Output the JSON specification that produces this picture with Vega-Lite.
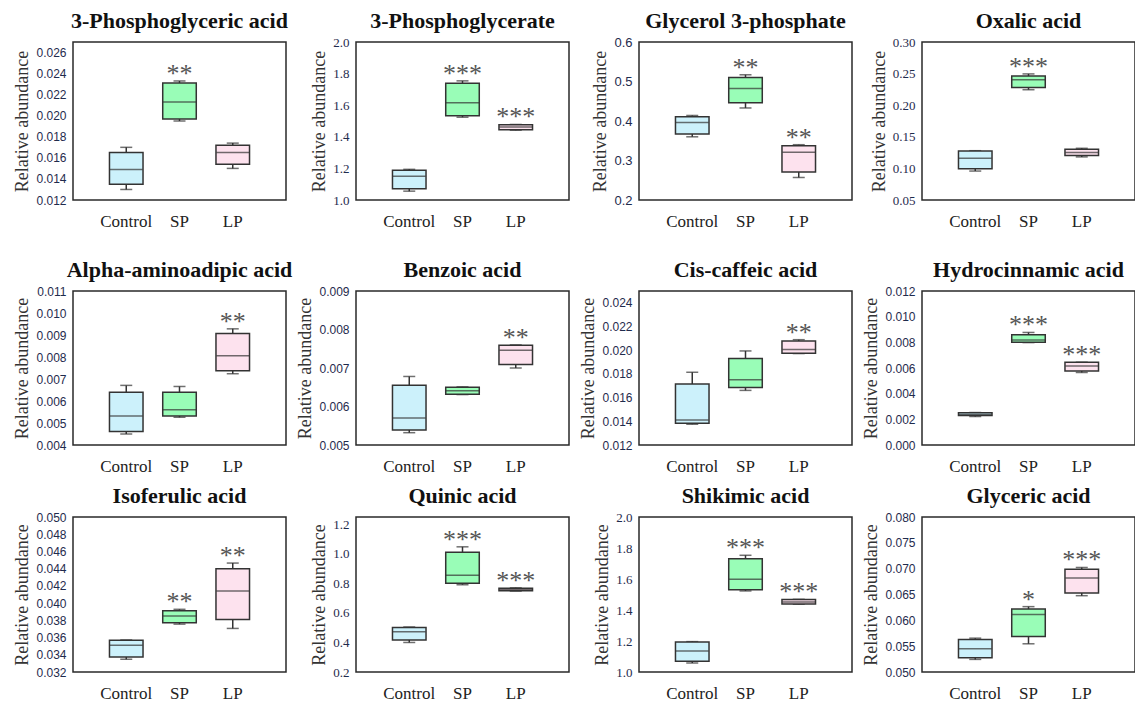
{
"$schema": "https://vega.github.io/schema/vega-lite/v6.json",
"background": "white",
"padding": {"left": 13, "top": 9, "right": 0, "bottom": 0},
"data": {"values": [
{"panel":"3-Phosphoglyceric acid","group":"Control","min":0.0130,"q1":0.0135,"median":0.0149,"q3":0.0165,"max":0.0170,"sig":""},
{"panel":"3-Phosphoglyceric acid","group":"SP","min":0.0195,"q1":0.0197,"median":0.0213,"q3":0.0231,"max":0.0233,"sig":"**"},
{"panel":"3-Phosphoglyceric acid","group":"LP","min":0.0150,"q1":0.0154,"median":0.0165,"q3":0.0172,"max":0.0174,"sig":""},
{"panel":"3-Phosphoglycerate","group":"Control","min":1.056,"q1":1.071,"median":1.150,"q3":1.188,"max":1.194,"sig":""},
{"panel":"3-Phosphoglycerate","group":"SP","min":1.524,"q1":1.534,"median":1.615,"q3":1.739,"max":1.754,"sig":"***"},
{"panel":"3-Phosphoglycerate","group":"LP","min":1.442,"q1":1.444,"median":1.462,"q3":1.476,"max":1.478,"sig":"***"},
{"panel":"Glycerol 3-phosphate","group":"Control","min":0.360,"q1":0.367,"median":0.396,"q3":0.411,"max":0.414,"sig":""},
{"panel":"Glycerol 3-phosphate","group":"SP","min":0.433,"q1":0.446,"median":0.482,"q3":0.510,"max":0.517,"sig":"**"},
{"panel":"Glycerol 3-phosphate","group":"LP","min":0.257,"q1":0.271,"median":0.321,"q3":0.3375,"max":0.340,"sig":"**"},
{"panel":"Oxalic acid","group":"Control","min":0.0958,"q1":0.0995,"median":0.1161,"q3":0.1276,"max":0.1280,"sig":""},
{"panel":"Oxalic acid","group":"SP","min":0.2245,"q1":0.2281,"median":0.2401,"q3":0.2464,"max":0.2495,"sig":"***"},
{"panel":"Oxalic acid","group":"LP","min":0.1182,"q1":0.1203,"median":0.1250,"q3":0.1302,"max":0.1318,"sig":""},
{"panel":"Alpha-aminoadipic acid","group":"Control","min":0.00450,"q1":0.00461,"median":0.00532,"q3":0.00640,"max":0.00671,"sig":""},
{"panel":"Alpha-aminoadipic acid","group":"SP","min":0.00526,"q1":0.00532,"median":0.00560,"q3":0.00640,"max":0.00666,"sig":""},
{"panel":"Alpha-aminoadipic acid","group":"LP","min":0.00724,"q1":0.00738,"median":0.00806,"q3":0.00907,"max":0.00928,"sig":"**"},
{"panel":"Benzoic acid","group":"Control","min":0.00532,"q1":0.00539,"median":0.00570,"q3":0.00655,"max":0.00678,"sig":""},
{"panel":"Benzoic acid","group":"SP","min":0.00631,"q1":0.00632,"median":0.00641,"q3":0.00650,"max":0.00651,"sig":""},
{"panel":"Benzoic acid","group":"LP","min":0.00700,"q1":0.00709,"median":0.00746,"q3":0.00759,"max":0.00760,"sig":"**"},
{"panel":"Cis-caffeic acid","group":"Control","min":0.01375,"q1":0.01383,"median":0.01411,"q3":0.01714,"max":0.01814,"sig":""},
{"panel":"Cis-caffeic acid","group":"SP","min":0.01661,"q1":0.01686,"median":0.01750,"q3":0.01931,"max":0.01994,"sig":""},
{"panel":"Cis-caffeic acid","group":"LP","min":0.01972,"q1":0.01975,"median":0.02006,"q3":0.02078,"max":0.02089,"sig":"**"},
{"panel":"Hydrocinnamic acid","group":"Control","min":0.00222,"q1":0.00230,"median":0.00238,"q3":0.00251,"max":0.00253,"sig":""},
{"panel":"Hydrocinnamic acid","group":"SP","min":0.00798,"q1":0.00800,"median":0.00819,"q3":0.00859,"max":0.00877,"sig":"***"},
{"panel":"Hydrocinnamic acid","group":"LP","min":0.00565,"q1":0.00576,"median":0.00615,"q3":0.00644,"max":0.00645,"sig":"***"},
{"panel":"Isoferulic acid","group":"Control","min":0.03348,"q1":0.03375,"median":0.03511,"q3":0.03570,"max":0.03572,"sig":""},
{"panel":"Isoferulic acid","group":"SP","min":0.03756,"q1":0.03772,"median":0.03850,"q3":0.03912,"max":0.03928,"sig":"**"},
{"panel":"Isoferulic acid","group":"LP","min":0.03706,"q1":0.03811,"median":0.04142,"q3":0.04398,"max":0.04465,"sig":"**"},
{"panel":"Quinic acid","group":"Control","min":0.400,"q1":0.416,"median":0.473,"q3":0.502,"max":0.505,"sig":""},
{"panel":"Quinic acid","group":"SP","min":0.791,"q1":0.802,"median":0.855,"q3":1.011,"max":1.048,"sig":"***"},
{"panel":"Quinic acid","group":"LP","min":0.748,"q1":0.750,"median":0.761,"q3":0.768,"max":0.770,"sig":"***"},
{"panel":"Shikimic acid","group":"Control","min":1.058,"q1":1.069,"median":1.135,"q3":1.194,"max":1.196,"sig":""},
{"panel":"Shikimic acid","group":"SP","min":1.523,"q1":1.531,"median":1.598,"q3":1.731,"max":1.753,"sig":"***"},
{"panel":"Shikimic acid","group":"LP","min":1.437,"q1":1.439,"median":1.452,"q3":1.467,"max":1.469,"sig":"***"},
{"panel":"Glyceric acid","group":"Control","min":0.05244,"q1":0.05276,"median":0.05450,"q3":0.05629,"max":0.05655,"sig":""},
{"panel":"Glyceric acid","group":"SP","min":0.05546,"q1":0.05687,"median":0.06111,"q3":0.06220,"max":0.06265,"sig":"*"},
{"panel":"Glyceric acid","group":"LP","min":0.06477,"q1":0.06529,"median":0.06818,"q3":0.06991,"max":0.07023,"sig":"***"}
]},
"spacing": 28,
"vconcat": [
{"hconcat": [
{"title":{"text":"3-Phosphoglyceric acid","offset":9},"width":213,"height":158,
"transform":[{"filter":{"field":"panel","equal":"3-Phosphoglyceric acid"}}],
"encoding":{"x":{"field":"group","type":"nominal","sort":["Control","SP","LP"],"scale":{"paddingInner":0.37,"paddingOuter":0.685},"title":null,"axis":{"labelFont":"Liberation Serif","labelFontSize":17,"labelColor":"#222","labelPadding":13,"ticks":false,"domain":false,"labelAngle":0}}},
"layer":[
{"mark":{"type":"rule","color":"#333","strokeWidth":1.5},"encoding":{"y":{"field":"min","type":"quantitative","title":"Relative abundance","scale":{"domain":[0.012,0.027],"nice":false,"zero":false},"axis":{"values":[0.012,0.014,0.016,0.018,0.02,0.022,0.024,0.026],"tickCount":12,"format":".3f","labelOverlap":false,"labelFont":"Liberation Sans","labelFontSize":12,"labelColor":"#1f2b4d","labelPadding":7,"ticks":false,"domain":false,"grid":false,"titleFont":"Liberation Serif","titleFontSize":18,"titleFontWeight":"normal","titleColor":"#333","titlePadding":4}},"y2":{"field":"max"}}},
{"mark":{"type":"tick","color":"#333","size":12,"thickness":1.5},"encoding":{"y":{"field":"min","type":"quantitative","title":"Relative abundance","scale":{"domain":[0.012,0.027],"nice":false,"zero":false}}}},
{"mark":{"type":"tick","color":"#333","size":12,"thickness":1.5},"encoding":{"y":{"field":"max","type":"quantitative","title":"Relative abundance","scale":{"domain":[0.012,0.027],"nice":false,"zero":false}}}},
{"mark":{"type":"bar","stroke":"#333","strokeWidth":1.5},"encoding":{"y":{"field":"q1","type":"quantitative","title":"Relative abundance","scale":{"domain":[0.012,0.027],"nice":false,"zero":false}},"y2":{"field":"q3"},"fill":{"field":"group","type":"nominal","scale":{"domain":["Control","SP","LP"],"range":["#ccf1fb","#99fdb7","#fde2ee"]},"legend":null}}},
{"mark":{"type":"tick","color":"#333","size":33,"thickness":1.5},"encoding":{"y":{"field":"median","type":"quantitative","title":"Relative abundance","scale":{"domain":[0.012,0.027],"nice":false,"zero":false}}}},
{"mark":{"type":"text","font":"Liberation Serif","fontSize":26,"color":"#555","baseline":"alphabetic","dy":1},"encoding":{"y":{"field":"max","type":"quantitative","title":"Relative abundance","scale":{"domain":[0.012,0.027],"nice":false,"zero":false}},"text":{"field":"sig"}}}
]},
{"title":{"text":"3-Phosphoglycerate","offset":3},"width":213,"height":158,
"transform":[{"filter":{"field":"panel","equal":"3-Phosphoglycerate"}}],
"encoding":{"x":{"field":"group","type":"nominal","sort":["Control","SP","LP"],"scale":{"paddingInner":0.37,"paddingOuter":0.685},"title":null,"axis":{"labelFont":"Liberation Serif","labelFontSize":17,"labelColor":"#222","labelPadding":13,"ticks":false,"domain":false,"labelAngle":0}}},
"layer":[
{"mark":{"type":"rule","color":"#333","strokeWidth":1.5},"encoding":{"y":{"field":"min","type":"quantitative","title":"Relative abundance","scale":{"domain":[1.0,2.0],"nice":false,"zero":false},"axis":{"values":[1.0,1.2,1.4,1.6,1.8,2.0],"tickCount":12,"format":".1f","labelOverlap":false,"labelFont":"Liberation Serif","labelFontSize":13,"labelColor":"#1f2b4d","labelPadding":7,"ticks":false,"domain":false,"grid":false,"titleFont":"Liberation Serif","titleFontSize":18,"titleFontWeight":"normal","titleColor":"#333","titlePadding":4}},"y2":{"field":"max"}}},
{"mark":{"type":"tick","color":"#333","size":12,"thickness":1.5},"encoding":{"y":{"field":"min","type":"quantitative","title":"Relative abundance","scale":{"domain":[1.0,2.0],"nice":false,"zero":false}}}},
{"mark":{"type":"tick","color":"#333","size":12,"thickness":1.5},"encoding":{"y":{"field":"max","type":"quantitative","title":"Relative abundance","scale":{"domain":[1.0,2.0],"nice":false,"zero":false}}}},
{"mark":{"type":"bar","stroke":"#333","strokeWidth":1.5},"encoding":{"y":{"field":"q1","type":"quantitative","title":"Relative abundance","scale":{"domain":[1.0,2.0],"nice":false,"zero":false}},"y2":{"field":"q3"},"fill":{"field":"group","type":"nominal","scale":{"domain":["Control","SP","LP"],"range":["#ccf1fb","#99fdb7","#fde2ee"]},"legend":null}}},
{"mark":{"type":"tick","color":"#333","size":33,"thickness":1.5},"encoding":{"y":{"field":"median","type":"quantitative","title":"Relative abundance","scale":{"domain":[1.0,2.0],"nice":false,"zero":false}}}},
{"mark":{"type":"text","font":"Liberation Serif","fontSize":26,"color":"#555","baseline":"alphabetic","dy":1},"encoding":{"y":{"field":"max","type":"quantitative","title":"Relative abundance","scale":{"domain":[1.0,2.0],"nice":false,"zero":false}},"text":{"field":"sig"}}}
]},
{"title":{"text":"Glycerol 3-phosphate","offset":3},"width":213,"height":158,
"transform":[{"filter":{"field":"panel","equal":"Glycerol 3-phosphate"}}],
"encoding":{"x":{"field":"group","type":"nominal","sort":["Control","SP","LP"],"scale":{"paddingInner":0.37,"paddingOuter":0.685},"title":null,"axis":{"labelFont":"Liberation Serif","labelFontSize":17,"labelColor":"#222","labelPadding":13,"ticks":false,"domain":false,"labelAngle":0}}},
"layer":[
{"mark":{"type":"rule","color":"#333","strokeWidth":1.5},"encoding":{"y":{"field":"min","type":"quantitative","title":"Relative abundance","scale":{"domain":[0.2,0.6],"nice":false,"zero":false},"axis":{"values":[0.2,0.3,0.4,0.5,0.6],"tickCount":12,"format":".1f","labelOverlap":false,"labelFont":"Liberation Sans","labelFontSize":13,"labelColor":"#1f2b4d","labelPadding":7,"ticks":false,"domain":false,"grid":false,"titleFont":"Liberation Serif","titleFontSize":18,"titleFontWeight":"normal","titleColor":"#333","titlePadding":4}},"y2":{"field":"max"}}},
{"mark":{"type":"tick","color":"#333","size":12,"thickness":1.5},"encoding":{"y":{"field":"min","type":"quantitative","title":"Relative abundance","scale":{"domain":[0.2,0.6],"nice":false,"zero":false}}}},
{"mark":{"type":"tick","color":"#333","size":12,"thickness":1.5},"encoding":{"y":{"field":"max","type":"quantitative","title":"Relative abundance","scale":{"domain":[0.2,0.6],"nice":false,"zero":false}}}},
{"mark":{"type":"bar","stroke":"#333","strokeWidth":1.5},"encoding":{"y":{"field":"q1","type":"quantitative","title":"Relative abundance","scale":{"domain":[0.2,0.6],"nice":false,"zero":false}},"y2":{"field":"q3"},"fill":{"field":"group","type":"nominal","scale":{"domain":["Control","SP","LP"],"range":["#ccf1fb","#99fdb7","#fde2ee"]},"legend":null}}},
{"mark":{"type":"tick","color":"#333","size":33,"thickness":1.5},"encoding":{"y":{"field":"median","type":"quantitative","title":"Relative abundance","scale":{"domain":[0.2,0.6],"nice":false,"zero":false}}}},
{"mark":{"type":"text","font":"Liberation Serif","fontSize":26,"color":"#555","baseline":"alphabetic","dy":1},"encoding":{"y":{"field":"max","type":"quantitative","title":"Relative abundance","scale":{"domain":[0.2,0.6],"nice":false,"zero":false}},"text":{"field":"sig"}}}
]},
{"title":{"text":"Oxalic acid","offset":3},"width":213,"height":158,
"transform":[{"filter":{"field":"panel","equal":"Oxalic acid"}}],
"encoding":{"x":{"field":"group","type":"nominal","sort":["Control","SP","LP"],"scale":{"paddingInner":0.37,"paddingOuter":0.685},"title":null,"axis":{"labelFont":"Liberation Serif","labelFontSize":17,"labelColor":"#222","labelPadding":13,"ticks":false,"domain":false,"labelAngle":0}}},
"layer":[
{"mark":{"type":"rule","color":"#333","strokeWidth":1.5},"encoding":{"y":{"field":"min","type":"quantitative","title":"Relative abundance","scale":{"domain":[0.05,0.30],"nice":false,"zero":false},"axis":{"values":[0.05,0.1,0.15,0.2,0.25,0.3],"tickCount":12,"format":".2f","labelOverlap":false,"labelFont":"Liberation Serif","labelFontSize":13,"labelColor":"#1f2b4d","labelPadding":7,"ticks":false,"domain":false,"grid":false,"titleFont":"Liberation Serif","titleFontSize":18,"titleFontWeight":"normal","titleColor":"#333","titlePadding":4}},"y2":{"field":"max"}}},
{"mark":{"type":"tick","color":"#333","size":12,"thickness":1.5},"encoding":{"y":{"field":"min","type":"quantitative","title":"Relative abundance","scale":{"domain":[0.05,0.30],"nice":false,"zero":false}}}},
{"mark":{"type":"tick","color":"#333","size":12,"thickness":1.5},"encoding":{"y":{"field":"max","type":"quantitative","title":"Relative abundance","scale":{"domain":[0.05,0.30],"nice":false,"zero":false}}}},
{"mark":{"type":"bar","stroke":"#333","strokeWidth":1.5},"encoding":{"y":{"field":"q1","type":"quantitative","title":"Relative abundance","scale":{"domain":[0.05,0.30],"nice":false,"zero":false}},"y2":{"field":"q3"},"fill":{"field":"group","type":"nominal","scale":{"domain":["Control","SP","LP"],"range":["#ccf1fb","#99fdb7","#fde2ee"]},"legend":null}}},
{"mark":{"type":"tick","color":"#333","size":33,"thickness":1.5},"encoding":{"y":{"field":"median","type":"quantitative","title":"Relative abundance","scale":{"domain":[0.05,0.30],"nice":false,"zero":false}}}},
{"mark":{"type":"text","font":"Liberation Serif","fontSize":26,"color":"#555","baseline":"alphabetic","dy":1},"encoding":{"y":{"field":"max","type":"quantitative","title":"Relative abundance","scale":{"domain":[0.05,0.30],"nice":false,"zero":false}},"text":{"field":"sig"}}}
]}
], "spacing": 70, "bounds": "flush"},
{"spacing": 9, "vconcat": [
{"hconcat": [
{"title":{"text":"Alpha-aminoadipic acid","offset":3},"width":213,"height":154,
"transform":[{"filter":{"field":"panel","equal":"Alpha-aminoadipic acid"}}],
"encoding":{"x":{"field":"group","type":"nominal","sort":["Control","SP","LP"],"scale":{"paddingInner":0.37,"paddingOuter":0.685},"title":null,"axis":{"labelFont":"Liberation Serif","labelFontSize":17,"labelColor":"#222","labelPadding":13,"ticks":false,"domain":false,"labelAngle":0}}},
"layer":[
{"mark":{"type":"rule","color":"#333","strokeWidth":1.5},"encoding":{"y":{"field":"min","type":"quantitative","title":"Relative abundance","scale":{"domain":[0.004,0.011],"nice":false,"zero":false},"axis":{"values":[0.004,0.005,0.006,0.007,0.008,0.009,0.01,0.011],"tickCount":12,"format":".3f","labelOverlap":false,"labelFont":"Liberation Sans","labelFontSize":12,"labelColor":"#1f2b4d","labelPadding":7,"ticks":false,"domain":false,"grid":false,"titleFont":"Liberation Serif","titleFontSize":18,"titleFontWeight":"normal","titleColor":"#333","titlePadding":4}},"y2":{"field":"max"}}},
{"mark":{"type":"tick","color":"#333","size":12,"thickness":1.5},"encoding":{"y":{"field":"min","type":"quantitative","title":"Relative abundance","scale":{"domain":[0.004,0.011],"nice":false,"zero":false}}}},
{"mark":{"type":"tick","color":"#333","size":12,"thickness":1.5},"encoding":{"y":{"field":"max","type":"quantitative","title":"Relative abundance","scale":{"domain":[0.004,0.011],"nice":false,"zero":false}}}},
{"mark":{"type":"bar","stroke":"#333","strokeWidth":1.5},"encoding":{"y":{"field":"q1","type":"quantitative","title":"Relative abundance","scale":{"domain":[0.004,0.011],"nice":false,"zero":false}},"y2":{"field":"q3"},"fill":{"field":"group","type":"nominal","scale":{"domain":["Control","SP","LP"],"range":["#ccf1fb","#99fdb7","#fde2ee"]},"legend":null}}},
{"mark":{"type":"tick","color":"#333","size":33,"thickness":1.5},"encoding":{"y":{"field":"median","type":"quantitative","title":"Relative abundance","scale":{"domain":[0.004,0.011],"nice":false,"zero":false}}}},
{"mark":{"type":"text","font":"Liberation Serif","fontSize":26,"color":"#555","baseline":"alphabetic","dy":1},"encoding":{"y":{"field":"max","type":"quantitative","title":"Relative abundance","scale":{"domain":[0.004,0.011],"nice":false,"zero":false}},"text":{"field":"sig"}}}
]},
{"title":{"text":"Benzoic acid","offset":3},"width":213,"height":154,
"transform":[{"filter":{"field":"panel","equal":"Benzoic acid"}}],
"encoding":{"x":{"field":"group","type":"nominal","sort":["Control","SP","LP"],"scale":{"paddingInner":0.37,"paddingOuter":0.685},"title":null,"axis":{"labelFont":"Liberation Serif","labelFontSize":17,"labelColor":"#222","labelPadding":13,"ticks":false,"domain":false,"labelAngle":0}}},
"layer":[
{"mark":{"type":"rule","color":"#333","strokeWidth":1.5},"encoding":{"y":{"field":"min","type":"quantitative","title":"Relative abundance","scale":{"domain":[0.005,0.009],"nice":false,"zero":false},"axis":{"values":[0.005,0.006,0.007,0.008,0.009],"tickCount":12,"format":".3f","labelOverlap":false,"labelFont":"Liberation Sans","labelFontSize":12,"labelColor":"#1f2b4d","labelPadding":7,"ticks":false,"domain":false,"grid":false,"titleFont":"Liberation Serif","titleFontSize":18,"titleFontWeight":"normal","titleColor":"#333","titlePadding":4}},"y2":{"field":"max"}}},
{"mark":{"type":"tick","color":"#333","size":12,"thickness":1.5},"encoding":{"y":{"field":"min","type":"quantitative","title":"Relative abundance","scale":{"domain":[0.005,0.009],"nice":false,"zero":false}}}},
{"mark":{"type":"tick","color":"#333","size":12,"thickness":1.5},"encoding":{"y":{"field":"max","type":"quantitative","title":"Relative abundance","scale":{"domain":[0.005,0.009],"nice":false,"zero":false}}}},
{"mark":{"type":"bar","stroke":"#333","strokeWidth":1.5},"encoding":{"y":{"field":"q1","type":"quantitative","title":"Relative abundance","scale":{"domain":[0.005,0.009],"nice":false,"zero":false}},"y2":{"field":"q3"},"fill":{"field":"group","type":"nominal","scale":{"domain":["Control","SP","LP"],"range":["#ccf1fb","#99fdb7","#fde2ee"]},"legend":null}}},
{"mark":{"type":"tick","color":"#333","size":33,"thickness":1.5},"encoding":{"y":{"field":"median","type":"quantitative","title":"Relative abundance","scale":{"domain":[0.005,0.009],"nice":false,"zero":false}}}},
{"mark":{"type":"text","font":"Liberation Serif","fontSize":26,"color":"#555","baseline":"alphabetic","dy":1},"encoding":{"y":{"field":"max","type":"quantitative","title":"Relative abundance","scale":{"domain":[0.005,0.009],"nice":false,"zero":false}},"text":{"field":"sig"}}}
]},
{"title":{"text":"Cis-caffeic acid","offset":9},"width":213,"height":154,
"transform":[{"filter":{"field":"panel","equal":"Cis-caffeic acid"}}],
"encoding":{"x":{"field":"group","type":"nominal","sort":["Control","SP","LP"],"scale":{"paddingInner":0.37,"paddingOuter":0.685},"title":null,"axis":{"labelFont":"Liberation Serif","labelFontSize":17,"labelColor":"#222","labelPadding":13,"ticks":false,"domain":false,"labelAngle":0}}},
"layer":[
{"mark":{"type":"rule","color":"#333","strokeWidth":1.5},"encoding":{"y":{"field":"min","type":"quantitative","title":"Relative abundance","scale":{"domain":[0.012,0.025],"nice":false,"zero":false},"axis":{"values":[0.012,0.014,0.016,0.018,0.02,0.022,0.024],"tickCount":12,"format":".3f","labelOverlap":false,"labelFont":"Liberation Sans","labelFontSize":12,"labelColor":"#1f2b4d","labelPadding":7,"ticks":false,"domain":false,"grid":false,"titleFont":"Liberation Serif","titleFontSize":18,"titleFontWeight":"normal","titleColor":"#333","titlePadding":4}},"y2":{"field":"max"}}},
{"mark":{"type":"tick","color":"#333","size":12,"thickness":1.5},"encoding":{"y":{"field":"min","type":"quantitative","title":"Relative abundance","scale":{"domain":[0.012,0.025],"nice":false,"zero":false}}}},
{"mark":{"type":"tick","color":"#333","size":12,"thickness":1.5},"encoding":{"y":{"field":"max","type":"quantitative","title":"Relative abundance","scale":{"domain":[0.012,0.025],"nice":false,"zero":false}}}},
{"mark":{"type":"bar","stroke":"#333","strokeWidth":1.5},"encoding":{"y":{"field":"q1","type":"quantitative","title":"Relative abundance","scale":{"domain":[0.012,0.025],"nice":false,"zero":false}},"y2":{"field":"q3"},"fill":{"field":"group","type":"nominal","scale":{"domain":["Control","SP","LP"],"range":["#ccf1fb","#99fdb7","#fde2ee"]},"legend":null}}},
{"mark":{"type":"tick","color":"#333","size":33,"thickness":1.5},"encoding":{"y":{"field":"median","type":"quantitative","title":"Relative abundance","scale":{"domain":[0.012,0.025],"nice":false,"zero":false}}}},
{"mark":{"type":"text","font":"Liberation Serif","fontSize":26,"color":"#555","baseline":"alphabetic","dy":1},"encoding":{"y":{"field":"max","type":"quantitative","title":"Relative abundance","scale":{"domain":[0.012,0.025],"nice":false,"zero":false}},"text":{"field":"sig"}}}
]},
{"title":{"text":"Hydrocinnamic acid","offset":3},"width":213,"height":154,
"transform":[{"filter":{"field":"panel","equal":"Hydrocinnamic acid"}}],
"encoding":{"x":{"field":"group","type":"nominal","sort":["Control","SP","LP"],"scale":{"paddingInner":0.37,"paddingOuter":0.685},"title":null,"axis":{"labelFont":"Liberation Serif","labelFontSize":17,"labelColor":"#222","labelPadding":13,"ticks":false,"domain":false,"labelAngle":0}}},
"layer":[
{"mark":{"type":"rule","color":"#333","strokeWidth":1.5},"encoding":{"y":{"field":"min","type":"quantitative","title":"Relative abundance","scale":{"domain":[0,0.012],"nice":false,"zero":false},"axis":{"values":[0,0.002,0.004,0.006,0.008,0.01,0.012],"tickCount":12,"format":".3f","labelOverlap":false,"labelFont":"Liberation Sans","labelFontSize":12,"labelColor":"#1f2b4d","labelPadding":7,"ticks":false,"domain":false,"grid":false,"titleFont":"Liberation Serif","titleFontSize":18,"titleFontWeight":"normal","titleColor":"#333","titlePadding":4}},"y2":{"field":"max"}}},
{"mark":{"type":"tick","color":"#333","size":12,"thickness":1.5},"encoding":{"y":{"field":"min","type":"quantitative","title":"Relative abundance","scale":{"domain":[0,0.012],"nice":false,"zero":false}}}},
{"mark":{"type":"tick","color":"#333","size":12,"thickness":1.5},"encoding":{"y":{"field":"max","type":"quantitative","title":"Relative abundance","scale":{"domain":[0,0.012],"nice":false,"zero":false}}}},
{"mark":{"type":"bar","stroke":"#333","strokeWidth":1.5},"encoding":{"y":{"field":"q1","type":"quantitative","title":"Relative abundance","scale":{"domain":[0,0.012],"nice":false,"zero":false}},"y2":{"field":"q3"},"fill":{"field":"group","type":"nominal","scale":{"domain":["Control","SP","LP"],"range":["#ccf1fb","#99fdb7","#fde2ee"]},"legend":null}}},
{"mark":{"type":"tick","color":"#333","size":33,"thickness":1.5},"encoding":{"y":{"field":"median","type":"quantitative","title":"Relative abundance","scale":{"domain":[0,0.012],"nice":false,"zero":false}}}},
{"mark":{"type":"text","font":"Liberation Serif","fontSize":26,"color":"#555","baseline":"alphabetic","dy":1},"encoding":{"y":{"field":"max","type":"quantitative","title":"Relative abundance","scale":{"domain":[0,0.012],"nice":false,"zero":false}},"text":{"field":"sig"}}}
]}
], "spacing": 70, "bounds": "flush"},
{"hconcat": [
{"title":{"text":"Isoferulic acid","offset":3},"width":213,"height":155,
"transform":[{"filter":{"field":"panel","equal":"Isoferulic acid"}}],
"encoding":{"x":{"field":"group","type":"nominal","sort":["Control","SP","LP"],"scale":{"paddingInner":0.37,"paddingOuter":0.685},"title":null,"axis":{"labelFont":"Liberation Serif","labelFontSize":17,"labelColor":"#222","labelPadding":13,"ticks":false,"domain":false,"labelAngle":0}}},
"layer":[
{"mark":{"type":"rule","color":"#333","strokeWidth":1.5},"encoding":{"y":{"field":"min","type":"quantitative","title":"Relative abundance","scale":{"domain":[0.032,0.05],"nice":false,"zero":false},"axis":{"values":[0.032,0.034,0.036,0.038,0.04,0.042,0.044,0.046,0.048,0.05],"tickCount":12,"format":".3f","labelOverlap":false,"labelFont":"Liberation Sans","labelFontSize":12,"labelColor":"#1f2b4d","labelPadding":7,"ticks":false,"domain":false,"grid":false,"titleFont":"Liberation Serif","titleFontSize":18,"titleFontWeight":"normal","titleColor":"#333","titlePadding":4}},"y2":{"field":"max"}}},
{"mark":{"type":"tick","color":"#333","size":12,"thickness":1.5},"encoding":{"y":{"field":"min","type":"quantitative","title":"Relative abundance","scale":{"domain":[0.032,0.05],"nice":false,"zero":false}}}},
{"mark":{"type":"tick","color":"#333","size":12,"thickness":1.5},"encoding":{"y":{"field":"max","type":"quantitative","title":"Relative abundance","scale":{"domain":[0.032,0.05],"nice":false,"zero":false}}}},
{"mark":{"type":"bar","stroke":"#333","strokeWidth":1.5},"encoding":{"y":{"field":"q1","type":"quantitative","title":"Relative abundance","scale":{"domain":[0.032,0.05],"nice":false,"zero":false}},"y2":{"field":"q3"},"fill":{"field":"group","type":"nominal","scale":{"domain":["Control","SP","LP"],"range":["#ccf1fb","#99fdb7","#fde2ee"]},"legend":null}}},
{"mark":{"type":"tick","color":"#333","size":33,"thickness":1.5},"encoding":{"y":{"field":"median","type":"quantitative","title":"Relative abundance","scale":{"domain":[0.032,0.05],"nice":false,"zero":false}}}},
{"mark":{"type":"text","font":"Liberation Serif","fontSize":26,"color":"#555","baseline":"alphabetic","dy":1},"encoding":{"y":{"field":"max","type":"quantitative","title":"Relative abundance","scale":{"domain":[0.032,0.05],"nice":false,"zero":false}},"text":{"field":"sig"}}}
]},
{"title":{"text":"Quinic acid","offset":9},"width":213,"height":155,
"transform":[{"filter":{"field":"panel","equal":"Quinic acid"}}],
"encoding":{"x":{"field":"group","type":"nominal","sort":["Control","SP","LP"],"scale":{"paddingInner":0.37,"paddingOuter":0.685},"title":null,"axis":{"labelFont":"Liberation Serif","labelFontSize":17,"labelColor":"#222","labelPadding":13,"ticks":false,"domain":false,"labelAngle":0}}},
"layer":[
{"mark":{"type":"rule","color":"#333","strokeWidth":1.5},"encoding":{"y":{"field":"min","type":"quantitative","title":"Relative abundance","scale":{"domain":[0.2,1.25],"nice":false,"zero":false},"axis":{"values":[0.2,0.4,0.6,0.8,1.0,1.2],"tickCount":12,"format":".1f","labelOverlap":false,"labelFont":"Liberation Serif","labelFontSize":13,"labelColor":"#1f2b4d","labelPadding":7,"ticks":false,"domain":false,"grid":false,"titleFont":"Liberation Serif","titleFontSize":18,"titleFontWeight":"normal","titleColor":"#333","titlePadding":4}},"y2":{"field":"max"}}},
{"mark":{"type":"tick","color":"#333","size":12,"thickness":1.5},"encoding":{"y":{"field":"min","type":"quantitative","title":"Relative abundance","scale":{"domain":[0.2,1.25],"nice":false,"zero":false}}}},
{"mark":{"type":"tick","color":"#333","size":12,"thickness":1.5},"encoding":{"y":{"field":"max","type":"quantitative","title":"Relative abundance","scale":{"domain":[0.2,1.25],"nice":false,"zero":false}}}},
{"mark":{"type":"bar","stroke":"#333","strokeWidth":1.5},"encoding":{"y":{"field":"q1","type":"quantitative","title":"Relative abundance","scale":{"domain":[0.2,1.25],"nice":false,"zero":false}},"y2":{"field":"q3"},"fill":{"field":"group","type":"nominal","scale":{"domain":["Control","SP","LP"],"range":["#ccf1fb","#99fdb7","#fde2ee"]},"legend":null}}},
{"mark":{"type":"tick","color":"#333","size":33,"thickness":1.5},"encoding":{"y":{"field":"median","type":"quantitative","title":"Relative abundance","scale":{"domain":[0.2,1.25],"nice":false,"zero":false}}}},
{"mark":{"type":"text","font":"Liberation Serif","fontSize":26,"color":"#555","baseline":"alphabetic","dy":1},"encoding":{"y":{"field":"max","type":"quantitative","title":"Relative abundance","scale":{"domain":[0.2,1.25],"nice":false,"zero":false}},"text":{"field":"sig"}}}
]},
{"title":{"text":"Shikimic acid","offset":3},"width":213,"height":155,
"transform":[{"filter":{"field":"panel","equal":"Shikimic acid"}}],
"encoding":{"x":{"field":"group","type":"nominal","sort":["Control","SP","LP"],"scale":{"paddingInner":0.37,"paddingOuter":0.685},"title":null,"axis":{"labelFont":"Liberation Serif","labelFontSize":17,"labelColor":"#222","labelPadding":13,"ticks":false,"domain":false,"labelAngle":0}}},
"layer":[
{"mark":{"type":"rule","color":"#333","strokeWidth":1.5},"encoding":{"y":{"field":"min","type":"quantitative","title":"Relative abundance","scale":{"domain":[1.0,2.0],"nice":false,"zero":false},"axis":{"values":[1.0,1.2,1.4,1.6,1.8,2.0],"tickCount":12,"format":".1f","labelOverlap":false,"labelFont":"Liberation Serif","labelFontSize":13,"labelColor":"#1f2b4d","labelPadding":7,"ticks":false,"domain":false,"grid":false,"titleFont":"Liberation Serif","titleFontSize":18,"titleFontWeight":"normal","titleColor":"#333","titlePadding":4}},"y2":{"field":"max"}}},
{"mark":{"type":"tick","color":"#333","size":12,"thickness":1.5},"encoding":{"y":{"field":"min","type":"quantitative","title":"Relative abundance","scale":{"domain":[1.0,2.0],"nice":false,"zero":false}}}},
{"mark":{"type":"tick","color":"#333","size":12,"thickness":1.5},"encoding":{"y":{"field":"max","type":"quantitative","title":"Relative abundance","scale":{"domain":[1.0,2.0],"nice":false,"zero":false}}}},
{"mark":{"type":"bar","stroke":"#333","strokeWidth":1.5},"encoding":{"y":{"field":"q1","type":"quantitative","title":"Relative abundance","scale":{"domain":[1.0,2.0],"nice":false,"zero":false}},"y2":{"field":"q3"},"fill":{"field":"group","type":"nominal","scale":{"domain":["Control","SP","LP"],"range":["#ccf1fb","#99fdb7","#fde2ee"]},"legend":null}}},
{"mark":{"type":"tick","color":"#333","size":33,"thickness":1.5},"encoding":{"y":{"field":"median","type":"quantitative","title":"Relative abundance","scale":{"domain":[1.0,2.0],"nice":false,"zero":false}}}},
{"mark":{"type":"text","font":"Liberation Serif","fontSize":26,"color":"#555","baseline":"alphabetic","dy":1},"encoding":{"y":{"field":"max","type":"quantitative","title":"Relative abundance","scale":{"domain":[1.0,2.0],"nice":false,"zero":false}},"text":{"field":"sig"}}}
]},
{"title":{"text":"Glyceric acid","offset":3},"width":213,"height":155,
"transform":[{"filter":{"field":"panel","equal":"Glyceric acid"}}],
"encoding":{"x":{"field":"group","type":"nominal","sort":["Control","SP","LP"],"scale":{"paddingInner":0.37,"paddingOuter":0.685},"title":null,"axis":{"labelFont":"Liberation Serif","labelFontSize":17,"labelColor":"#222","labelPadding":13,"ticks":false,"domain":false,"labelAngle":0}}},
"layer":[
{"mark":{"type":"rule","color":"#333","strokeWidth":1.5},"encoding":{"y":{"field":"min","type":"quantitative","title":"Relative abundance","scale":{"domain":[0.05,0.08],"nice":false,"zero":false},"axis":{"values":[0.05,0.055,0.06,0.065,0.07,0.075,0.08],"tickCount":12,"format":".3f","labelOverlap":false,"labelFont":"Liberation Sans","labelFontSize":12,"labelColor":"#1f2b4d","labelPadding":7,"ticks":false,"domain":false,"grid":false,"titleFont":"Liberation Serif","titleFontSize":18,"titleFontWeight":"normal","titleColor":"#333","titlePadding":4}},"y2":{"field":"max"}}},
{"mark":{"type":"tick","color":"#333","size":12,"thickness":1.5},"encoding":{"y":{"field":"min","type":"quantitative","title":"Relative abundance","scale":{"domain":[0.05,0.08],"nice":false,"zero":false}}}},
{"mark":{"type":"tick","color":"#333","size":12,"thickness":1.5},"encoding":{"y":{"field":"max","type":"quantitative","title":"Relative abundance","scale":{"domain":[0.05,0.08],"nice":false,"zero":false}}}},
{"mark":{"type":"bar","stroke":"#333","strokeWidth":1.5},"encoding":{"y":{"field":"q1","type":"quantitative","title":"Relative abundance","scale":{"domain":[0.05,0.08],"nice":false,"zero":false}},"y2":{"field":"q3"},"fill":{"field":"group","type":"nominal","scale":{"domain":["Control","SP","LP"],"range":["#ccf1fb","#99fdb7","#fde2ee"]},"legend":null}}},
{"mark":{"type":"tick","color":"#333","size":33,"thickness":1.5},"encoding":{"y":{"field":"median","type":"quantitative","title":"Relative abundance","scale":{"domain":[0.05,0.08],"nice":false,"zero":false}}}},
{"mark":{"type":"text","font":"Liberation Serif","fontSize":26,"color":"#555","baseline":"alphabetic","dy":1},"encoding":{"y":{"field":"max","type":"quantitative","title":"Relative abundance","scale":{"domain":[0.05,0.08],"nice":false,"zero":false}},"text":{"field":"sig"}}}
]}
], "spacing": 70, "bounds": "flush"}
]}
],
"config": {
"view": {"stroke": "#2a2a2a", "strokeWidth": 1.5},
"title": {"font": "Liberation Serif", "fontSize": 22, "fontWeight": "bold", "color": "#111"}
}
}
